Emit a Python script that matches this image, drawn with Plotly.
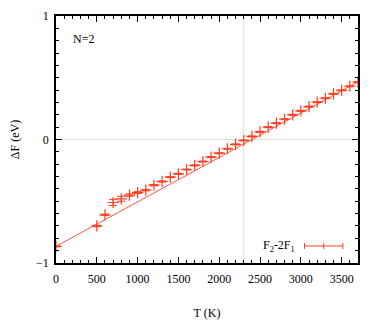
import plotly.graph_objects as go

# data
T = [0, 500, 600, 700, 800, 900, 1000, 1100, 1200, 1300, 1400, 1500, 1600,
     1700, 1800, 1900, 2000, 2100, 2200, 2300, 2400, 2500, 2600, 2700, 2800,
     2900, 3000, 3100, 3200, 3300, 3400, 3500, 3600, 3700]
dF = [-0.865, -0.70, -0.61, -0.51, -0.48, -0.45, -0.43, -0.41, -0.37, -0.34,
      -0.305, -0.278, -0.243, -0.210, -0.178, -0.143, -0.111, -0.075, -0.040,
      -0.008, 0.025, 0.062, 0.100, 0.132, 0.164, 0.200, 0.232, 0.267, 0.302,
      0.334, 0.370, 0.398, 0.431, 0.464]
dF_err = [0.004, 0.006, 0.006, 0.025, 0.02, 0.01, 0.008, 0.006, 0.005, 0.005,
          0.004, 0.004, 0.004, 0.004, 0.004, 0.004, 0.004, 0.004, 0.004,
          0.004, 0.004, 0.004, 0.004, 0.004, 0.004, 0.004, 0.004, 0.004,
          0.004, 0.004, 0.004, 0.004, 0.004, 0.004]

# linear fit drawn as a line
fit_T = [0, 3700]
fit_F = [-0.865, 0.467]

T_cross = 2300   # where dF crosses zero (grey guide line)

x_ticks = [0, 500, 1000, 1500, 2000, 2500, 3000, 3500]
y_ticks = [-1, 0, 1]

RED = "#ff3d1f"
FONT = "Times New Roman, Liberation Serif, DejaVu Serif, serif"

fig = go.Figure()

fig.add_trace(go.Scatter(x=fit_T, y=fit_F, mode="lines",
                         line=dict(color="#ff5a40", width=1),
                         showlegend=False, hoverinfo="skip"))

fig.add_trace(go.Scatter(
    x=T, y=dF, mode="markers",
    marker=dict(symbol="cross-thin", size=8, line=dict(color=RED, width=1.2)),
    error_y=dict(type="data", array=dF_err, color=RED, thickness=1, width=4),
    showlegend=False))

# light grey guide lines
fig.add_shape(type="line", xref="x", yref="paper", x0=T_cross, x1=T_cross,
              y0=0, y1=1, line=dict(color="#dddddd", width=1), layer="below")
fig.add_shape(type="line", xref="paper", yref="y", x0=0, x1=1, y0=0, y1=0,
              line=dict(color="#dddddd", width=1), layer="below")

# hand-made key, gnuplot style (line with end caps and centre tick)
kx0, kx1, ky = 0.823, 0.950, 0.069
fig.add_shape(type="line", xref="paper", yref="paper", x0=kx0, x1=kx1,
              y0=ky, y1=ky, line=dict(color=RED, width=1))
for kx in (kx0, (kx0 + kx1) / 2, kx1):
    fig.add_shape(type="line", xref="paper", yref="paper", x0=kx, x1=kx,
                  y0=ky - 0.012, y1=ky + 0.012, line=dict(color=RED, width=1))
fig.add_annotation(text="F<sub>2</sub>-2F<sub>1</sub>", xref="paper",
                   yref="paper", x=0.797, y=ky, xanchor="right",
                   yanchor="middle", showarrow=False,
                   font=dict(family=FONT, size=12, color="black"))

fig.add_annotation(text="N=2", xref="paper", yref="paper", x=0.05, y=0.905,
                   xanchor="left", yanchor="middle", showarrow=False,
                   font=dict(family=FONT, size=12, color="black"))

axis_common = dict(showgrid=False, zeroline=False, showline=True,
                   linecolor="black", linewidth=1.5, mirror="allticks",
                   ticks="inside", ticklen=6, tickcolor="black", tickwidth=1,
                   automargin=False,
                   tickfont=dict(family=FONT, size=12, color="black"))

fig.update_xaxes(range=[0, 3700], tickvals=x_ticks,
                 minor=dict(dtick=100, ticks="inside", ticklen=3,
                            tickcolor="black"),
                 title=dict(text="T (K)", font=dict(family=FONT, size=12,
                                                    color="black"),
                            standoff=23),
                 ticklabelstandoff=4, **axis_common)
fig.update_yaxes(range=[-1, 1], tickvals=y_ticks,
                 minor=dict(dtick=0.1, ticks="inside", ticklen=3,
                            tickcolor="black"),
                 title=dict(text="ΔF (eV)", font=dict(family=FONT, size=12,
                                                      color="black"),
                            standoff=16),
                 ticklabelstandoff=3, **axis_common)

# the page body keeps an 8px margin, so the figure is drawn 8px smaller
fig.update_layout(width=374, height=319,
                  margin=dict(l=48, r=24, t=8, b=64),
                  plot_bgcolor="white", paper_bgcolor="white",
                  font=dict(family=FONT))

fig.write_html("out.html")
